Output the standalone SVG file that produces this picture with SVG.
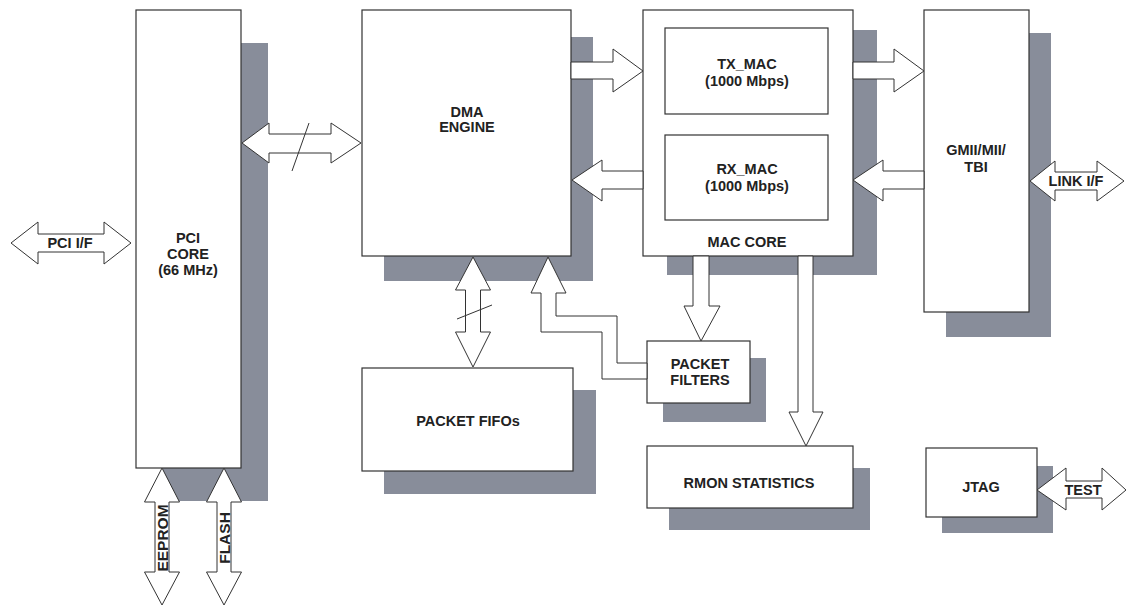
<svg xmlns="http://www.w3.org/2000/svg" width="1126" height="605" viewBox="0 0 1126 605">
<style>
.sh{fill:#888d9a}
.bx{fill:#fff;stroke:#333;stroke-width:1.2}
.ar{fill:#fff;stroke:#333;stroke-width:1;stroke-linejoin:miter}
.ln{fill:none;stroke:#333;stroke-width:1}
text{font-family:"Liberation Sans",Arial,Helvetica,sans-serif;font-weight:bold;font-size:14.5px;fill:#222;text-anchor:middle}
</style>
<rect width="1126" height="605" fill="#fff"/>
<g id="shadows">
<rect class="sh" x="163" y="43" width="105" height="458"/>
<rect class="sh" x="384" y="37" width="209" height="244"/>
<rect class="sh" x="384" y="390" width="212" height="104"/>
<rect class="sh" x="667" y="30" width="210" height="245"/>
<rect class="sh" x="663" y="358" width="103" height="64"/>
<rect class="sh" x="669" y="468" width="201" height="62"/>
<rect class="sh" x="946" y="33" width="105" height="304"/>
<rect class="sh" x="942" y="466" width="111" height="67"/>
</g>
<g id="pci-core">
<rect class="bx" x="136" y="10" width="105" height="458"/>
<text x="188" y="243">PCI</text><text x="188" y="259">CORE</text><text x="188" y="275">(66 MHz)</text>
</g>
<g id="dma-engine">
<rect class="bx" x="362" y="10" width="209" height="246"/>
<text x="467" y="117">DMA</text><text x="467" y="132">ENGINE</text>
</g>
<g id="packet-fifos">
<rect class="bx" x="362" y="368" width="211" height="103"/>
<text x="468" y="426">PACKET FIFOs</text>
</g>
<g id="mac-core">
<rect class="bx" x="643" y="10" width="210" height="246"/>
<text x="747" y="247">MAC CORE</text>
</g>
<g id="tx-mac">
<rect class="bx" x="665" y="28" width="163" height="86"/>
<text x="747" y="69">TX_MAC</text><text x="747" y="86">(1000 Mbps)</text>
</g>
<g id="rx-mac">
<rect class="bx" x="665" y="135" width="163" height="85"/>
<text x="747" y="174">RX_MAC</text><text x="747" y="191">(1000 Mbps)</text>
</g>
<g id="packet-filters">
<rect class="bx" x="647" y="341" width="103" height="62"/>
<text x="700" y="369">PACKET</text><text x="700" y="385">FILTERS</text>
</g>
<g id="rmon-statistics">
<rect class="bx" x="647" y="446" width="206" height="62"/>
<text x="749" y="488">RMON STATISTICS</text>
</g>
<g id="gmii">
<rect class="bx" x="924" y="10" width="105" height="302"/>
<text x="976" y="155">GMII/MII/</text><text x="976" y="172">TBI</text>
</g>
<g id="jtag">
<rect class="bx" x="926" y="448" width="111" height="69"/>
<text x="981" y="492">JTAG</text>
</g>
<g id="connectors">
<!-- PCI I/F -->
<polygon class="ar" points="11,243 38,222 38,234 104,234 104,222 131,243 104,264 104,252 38,252 38,264"/>
<text x="70" y="248">PCI I/F</text>
<!-- EEPROM -->
<polygon class="ar" points="162,468 179.5,502 169,502 169,572 179.5,572 162,605 144.5,572 155,572 155,502 144.5,502"/>
<text transform="translate(168,538) rotate(-90)" style="font-size:15.5px">EEPROM</text>
<!-- FLASH -->
<polygon class="ar" points="224,468 241.5,502 231,502 231,572 241.5,572 224,605 206.5,572 217,572 217,502 206.5,502"/>
<text transform="translate(230,538) rotate(-90)" style="font-size:15.5px">FLASH</text>
<!-- PCI <-> DMA -->
<polygon class="ar" points="242,143 269,123 269,134 331,134 331,123 361,143 331,163 331,153 269,153 269,163"/>
<line class="ln" x1="309" y1="123" x2="292" y2="171"/>
<!-- DMA -> TX_MAC -->
<polygon class="ar" points="571,62 613,62 613,49 643,71 613,92 613,79 571,79"/>
<!-- RX_MAC -> DMA -->
<polygon class="ar" points="643,171 602,171 602,160 572,180 602,201 602,189 643,189"/>
<!-- TX_MAC -> GMII -->
<polygon class="ar" points="853,62 894,62 894,49 924,71 894,92 894,79 853,79"/>
<!-- GMII -> RX_MAC -->
<polygon class="ar" points="924,171 883,171 883,160 853,180 883,201 883,189 924,189"/>
<!-- LINK I/F -->
<polygon class="ar" points="1030,181 1055,161 1055,172 1097,172 1097,161 1124,181 1097,201 1097,190 1055,190 1055,201"/>
<text x="1076" y="186">LINK I/F</text>
<!-- DMA <-> FIFOs -->
<polygon class="ar" points="473,257 490.5,290 480.5,290 480.5,332 490.5,332 473,367 455.5,332 465.5,332 465.5,290 455.5,290"/>
<line class="ln" x1="457" y1="319" x2="492" y2="305"/>
<!-- PACKET FILTERS -> DMA -->
<polygon class="ar" points="548,257 566,293 556,293 556,316 617,316 617,363 647,363 647,379 602,379 602,332 541,332 541,293 531,293"/>
<!-- MAC -> PACKET FILTERS -->
<polygon class="ar" points="693,256 709,256 709,306 720,306 701,341 684,306 693,306"/>
<!-- MAC -> RMON -->
<polygon class="ar" points="798,256 813,256 813,412 823,412 806,446 789,412 798,412"/>
<!-- TEST -->
<polygon class="ar" points="1037,490 1066,468 1066,481 1102,481 1102,468 1126,490 1102,510 1102,498 1066,498 1066,510"/>
<text x="1083" y="495">TEST</text>
</g>
</svg>
